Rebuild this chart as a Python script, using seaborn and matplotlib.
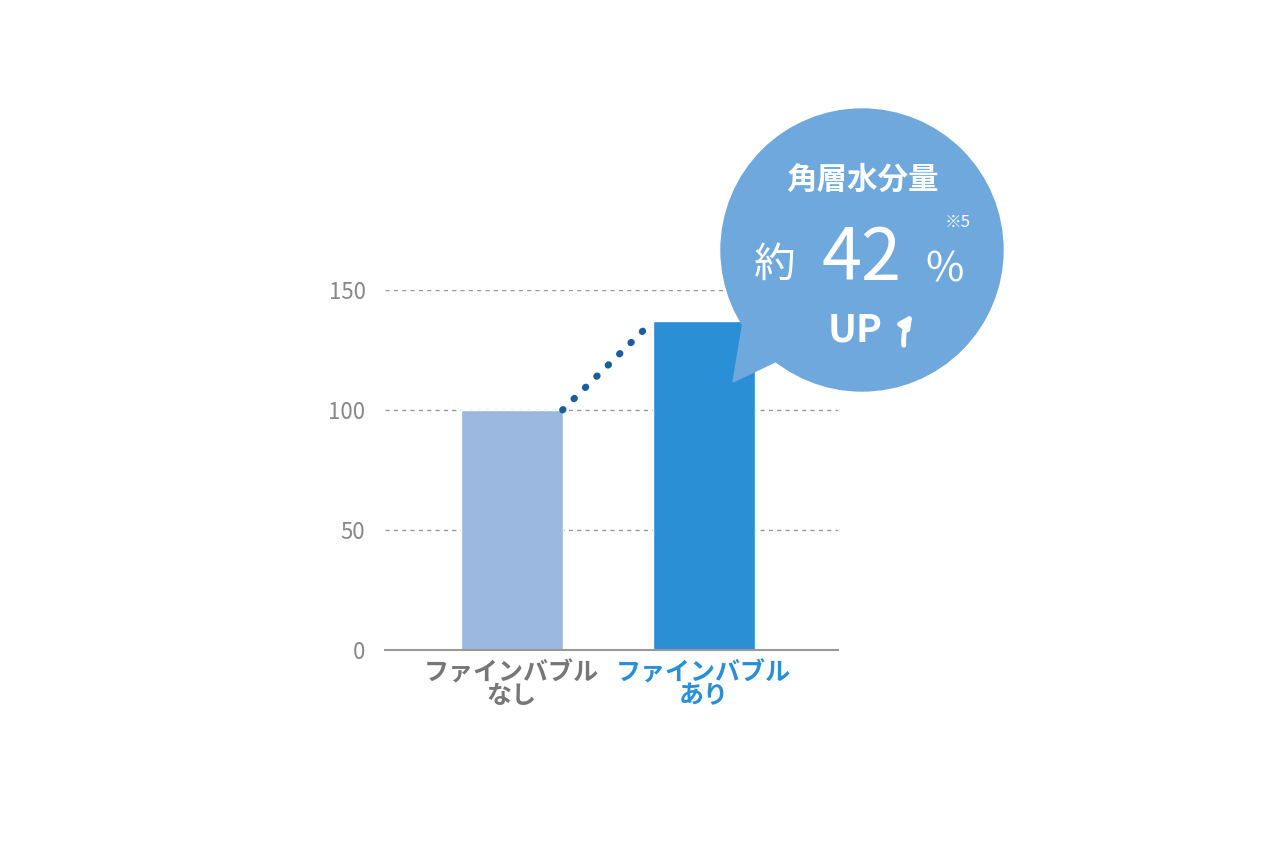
import matplotlib
matplotlib.use("Agg")
import matplotlib.pyplot as plt
import seaborn as sns
import pandas as pd
from matplotlib.patches import Circle, Polygon

categories = ["ファインバブル\nなし", "ファインバブル\nあり"]
values = [100, 137]
bar_colors = ["#9bb8e0", "#2a8fd4"]
yticks = [0, 50, 100, 150]

sns.set_theme(style="white")
plt.rcParams['font.family'] = ['Noto Sans CJK JP', 'DejaVu Sans']

fig = plt.figure(figsize=(12.79, 8.52), dpi=100)
ax = fig.add_axes([385/1279, 1-650/852, 453/1279, 360/852])
df = pd.DataFrame({"cat": categories, "val": values})
sns.barplot(data=df, x="cat", y="val", hue="cat", palette=bar_colors, width=0.53,
            legend=False, ax=ax, saturation=1)
ax.set_xlim(-0.66, 1.70)
ax.set_ylim(0, 150)
ax.set_yticks(yticks)
ax.set_yticklabels([str(t) for t in yticks], fontsize=16, color="#888888")
for t in yticks[1:]:
    ax.axhline(t, xmin=0, xmax=1, color="#999999", lw=1, ls=(0, (3, 3)), zorder=0)
for s in ["top", "right", "left"]:
    ax.spines[s].set_visible(False)
ax.spines["bottom"].set_color("#999999")
ax.spines["bottom"].set_linewidth(1.5)
ax.tick_params(axis="y", length=0, pad=14)
ax.tick_params(axis="x", length=0, pad=8)
ax.set_xlabel(""); ax.set_ylabel("")
labs = ax.set_xticklabels(categories, fontsize=18, linespacing=0.95)
labs[0].set_color("#777777"); labs[0].set_fontweight("bold")
labs[1].set_color("#2a8fd4"); labs[1].set_fontweight("bold")
ax.plot([0.265, 0.735], [values[0], values[1]], color="#1a5e9e", lw=5,
        ls=(0, (0.1, 2.2)), dash_capstyle="round", clip_on=False, zorder=5)

ov = fig.add_axes([0, 0, 1, 1], facecolor="none")
ov.set_xlim(0, 1279); ov.set_ylim(852, 0); ov.axis("off")
bc = "#6fa8dc"
ov.add_patch(Circle((862, 250), 141, color=bc, zorder=2))
ov.add_patch(Polygon([[745, 310], [800, 350], [733, 382]], closed=True, color=bc, zorder=2))
ov.text(862, 180, "角層水分量", ha="center", va="center", fontsize=22, color="white", fontweight="bold", zorder=3)
ov.text(775, 265, "約", ha="center", va="center", fontsize=30, color="white", zorder=3)
ov.text(862, 260, "42", ha="center", va="center", fontsize=52, color="white", zorder=3)
ov.text(945, 270, "%", ha="center", va="center", fontsize=30, color="white", zorder=3)
ov.text(958, 222, "※5", ha="center", va="center", fontsize=12, color="white", zorder=3)
ov.text(855, 330, "UP", ha="center", va="center", fontsize=28, color="white", fontweight="bold", zorder=3)
ov.annotate("", xy=(914, 312), xytext=(904, 348),
            arrowprops=dict(arrowstyle="-|>", color="white", lw=3.5, mutation_scale=18,
                            connectionstyle="arc3,rad=-0.2"), zorder=3)
fig.savefig("out.png", dpi=100, facecolor="white")
